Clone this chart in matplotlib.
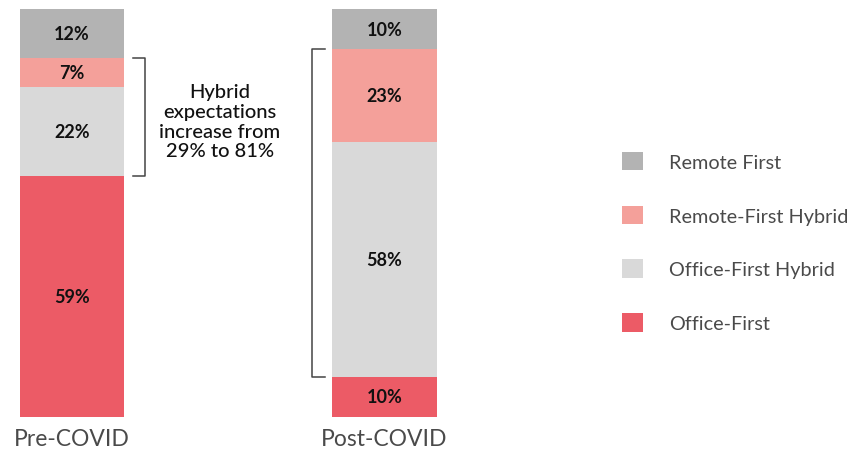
import matplotlib
matplotlib.use("Agg")
import matplotlib.pyplot as plt
from matplotlib.patches import Patch
import numpy as np

plt.rcParams['font.family'] = ['Lato', 'DejaVu Sans']

periods = ["Pre-COVID", "Post-COVID"]
categories = ["Office-First", "Office-First Hybrid", "Remote-First Hybrid", "Remote First"]
office_first = [59, 10]
office_first_hybrid = [22, 58]
remote_first_hybrid = [7, 23]
remote_first = [12, 10]
colors = ["#EC5B66", "#D9D9D9", "#F4A09A", "#B3B3B3"]
note = "Hybrid\nexpectations\nincrease from\n29% to 81%"

series = np.array([office_first, office_first_hybrid, remote_first_hybrid, remote_first], dtype=float)
# each bar is shown as a share of its own total
shares = series / series.sum(axis=0) * 100

fig = plt.figure(figsize=(8.51, 4.52), dpi=100)
ax = fig.add_axes([0, 34 / 452, 1, 408 / 452])
x = np.arange(len(periods))
width = 0.333

bottom = np.zeros(len(periods))
for vals, h, col in zip(series, shares, colors):
    ax.bar(x, h, width, bottom=bottom, color=col, edgecolor="none", clip_on=False)
    for xi, b, hh, v in zip(x, bottom, h, vals):
        ax.text(xi, b + hh / 2, f"{int(v)}%", ha="center", va="center",
                fontsize=13, fontweight="bold", color="#111111")
    bottom += h

ax.set_xlim(-0.2304, 2.4928)
ax.set_ylim(0, 100)
for s in ax.spines.values():
    s.set_visible(False)
ax.set_yticks([])
ax.set_xticks(x)
ax.set_xticklabels(periods, fontsize=16.5, color="#4a4a4a")
ax.tick_params(axis="x", length=0, pad=8)

cum = np.cumsum(shares, axis=0)

# brackets around the hybrid segments
lo0, hi0 = cum[0, 0], cum[2, 0]
xa, xb = 0.195, 0.2336
ax.plot([xa, xb, xb, xa], [hi0, hi0, lo0, lo0], color="#444444", lw=1.1, clip_on=False)

lo1, hi1 = cum[0, 1], cum[2, 1]
xa, xb = 1 - 0.19, 1 - 0.232
ax.plot([xa, xb, xb, xa], [hi1, hi1, lo1, lo1], color="#444444", lw=1.1, clip_on=False)

ax.text(0.4736, 72.5, note, ha="center", va="center", fontsize=14.5,
        fontweight="medium", color="#111111", linespacing=1.2)

handles = [Patch(facecolor=c, edgecolor="none") for c in colors[::-1]]
leg = ax.legend(handles, categories[::-1], loc="center left",
                bbox_to_anchor=(622 / 851, (418 - 243) / 408), frameon=False, fontsize=14.3,
                handlelength=1.05, handleheight=1.05, handletextpad=1.3,
                labelspacing=1.75, borderaxespad=0, borderpad=0)
for t in leg.get_texts():
    t.set_color("#4a4a4a")

fig.savefig("out.png", dpi=100)
